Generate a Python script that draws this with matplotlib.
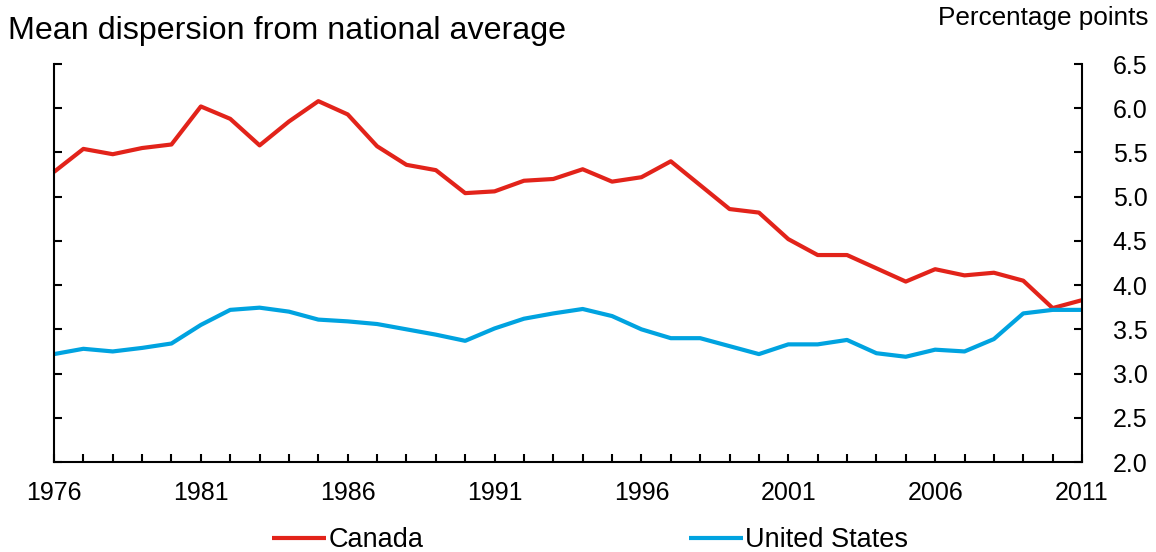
import matplotlib
matplotlib.use("Agg")
import matplotlib.pyplot as plt
from matplotlib.ticker import MultipleLocator, FixedLocator

years = list(range(1976, 2012))
canada = [5.28, 5.54, 5.48, 5.55, 5.59, 6.02, 5.88, 5.58, 5.85, 6.08,
          5.93, 5.57, 5.36, 5.30, 5.04, 5.06, 5.18, 5.20, 5.31, 5.17,
          5.22, 5.40, 5.13, 4.86, 4.82, 4.52, 4.34, 4.34, 4.19, 4.04,
          4.18, 4.11, 4.14, 4.05, 3.74, 3.83]
united_states = [3.22, 3.28, 3.25, 3.29, 3.34, 3.55, 3.72, 3.745, 3.70, 3.61,
                 3.59, 3.56, 3.50, 3.44, 3.37, 3.51, 3.62, 3.68, 3.73, 3.65,
                 3.50, 3.40, 3.40, 3.31, 3.22, 3.33, 3.33, 3.38, 3.23, 3.19,
                 3.27, 3.25, 3.39, 3.68, 3.72, 3.72]
x_labels = [1976, 1981, 1986, 1991, 1996, 2001, 2006, 2011]

plt.rcParams['font.family'] = ['Liberation Sans', 'DejaVu Sans']

fig = plt.figure(figsize=(11.56, 5.52), dpi=100)
ax = fig.add_axes([54/1156, 1-462/552, (1082-54)/1156, (462-64)/552])

red = '#E2231A'
blue = '#00A3E0'
l1, = ax.plot(years, canada, color=red, lw=3.0, solid_capstyle='butt', clip_on=False)
l2, = ax.plot(years, united_states, color=blue, lw=3.0, solid_capstyle='butt', clip_on=False)

ax.set_xlim(1976, 2011)
ax.set_ylim(2.0, 6.5)
ax.spines['top'].set_visible(False)
for s in ['left', 'right', 'bottom']:
    ax.spines[s].set_linewidth(1.5)

ax.yaxis.set_major_locator(MultipleLocator(0.5))
ax.yaxis.tick_right()
ax.yaxis.set_ticks_position('both')
ax.tick_params(axis='y', which='major', direction='in', length=6, width=1.5,
               labelsize=18, pad=22, left=True, right=True, labelleft=False, labelright=True)
ax.set_yticklabels([f"{v:.1f}" for v in ax.get_yticks()])

ax.xaxis.set_major_locator(FixedLocator(x_labels))
ax.xaxis.set_minor_locator(MultipleLocator(1))
ax.set_xticklabels([str(y) for y in x_labels])
ax.tick_params(axis='x', which='both', direction='in', length=6, width=1.5,
               labelsize=18, pad=14)

fig.text(8/1156, 1-31/552, "Mean dispersion from national average",
         fontsize=23.2, ha='left', va='center')
fig.text(1148/1156, 1-18/552, "Percentage points",
         fontsize=18.8, ha='right', va='center')

fig.legend([l1, l2], ["Canada", "United States"], loc='center',
           bbox_to_anchor=(590/1156, 1-540/552), ncol=2, frameon=False,
           fontsize=19.5, handlelength=2.0, handletextpad=0.08, columnspacing=9.8,
           borderaxespad=0, borderpad=0)

fig.savefig("out.png", dpi=100)
